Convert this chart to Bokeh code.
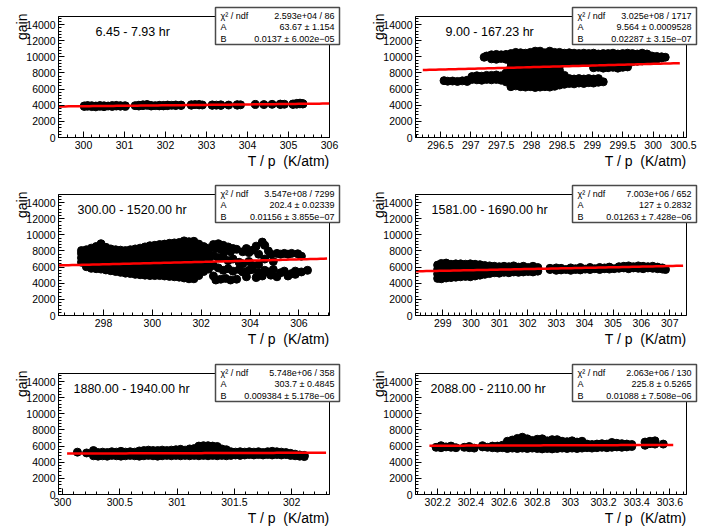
import math
import numpy as np
from bokeh.plotting import figure
from bokeh.layouts import row, column
from bokeh.models import (Range1d, SingleIntervalTicker, NumeralTickFormatter,
                          Label, GridBox)
from bokeh.core.properties import value
from bokeh.embed import file_html
from bokeh.resources import INLINE

FONT = "Liberation Sans"

# ---- per-panel settings -------------------------------------------------
TITLES = ["6.45 - 7.93 hr", "9.00 - 167.23 hr", "300.00 - 1520.00 hr",
          "1581.00 - 1690.00 hr", "1880.00 - 1940.00 hr", "2088.00 - 2110.00 hr"]
X_RANGES = [(299.39, 306.0), (296.09, 300.55), (296.16, 307.25),
            (298.04, 307.59), (299.965, 302.33), (302.066, 303.70)]
X_TICK_STEP = [1, 0.5, 2, 1, 0.5, 0.2]
Y_RANGE = (0, 15000)
Y_TICK_STEP = 2000
X_TITLE = "T / p\u00a0 (K/atm)"
Y_TITLE = "gain"

# exponential fit gain = A * exp(B * T/p)
FIT_A = [63.67, 9.564, 202.4, 127, 303.7, 225.8]
FIT_A_ERR = ["1.154", "0.0009528", "0.02339", "0.2832", "0.4845", "0.5265"]
FIT_B = [0.0137, 0.02287, 0.01156, 0.01263, 0.009384, 0.01088]
FIT_B_ERR = ["6.002e\u221205", "3.15e\u221207", "3.855e\u221207",
             "7.428e\u221206", "5.178e\u221206", "7.508e\u221206"]
CHI2 = ["2.593e+04", "3.025e+08", "3.547e+08", "7.003e+06", "5.748e+06", "2.063e+06"]
NDF = [86, 1717, 7299, 652, 358, 130]
FIT_SPAN = [(299.39, 306.0), (296.21, 300.44), (296.16, 307.15),
            (298.06, 307.47), (300.04, 302.30), (302.15, 303.62)]

# ---- measured points: (T/p, [gain, ...]) --------------------------------
P1_COLS = [
    (300.02, [3920, 3850]), (300.10, [3880, 3960]), (300.20, [3830, 3940]),
    (300.30, [3900, 3800]), (300.40, [3870, 3960]), (300.50, [3820, 3930]),
    (300.60, [3900]), (300.70, [3960, 3850]), (300.80, [3900, 3980]),
    (300.90, [3880, 3950]), (301.02, [3930, 3870]), (301.26, [3950]),
    (301.35, [3900, 4000]), (301.45, [4050, 3950]), (301.55, [3990, 4090]),
    (301.65, [3970, 3900]), (301.75, [3950]), (301.85, [3920, 3990]),
    (301.95, [3980, 3920]), (302.05, [3950, 4020]), (302.15, [3990]),
    (302.25, [3960, 4030]), (302.38, [4020, 3970]), (302.63, [4060, 4000]),
    (302.72, [4080]), (302.82, [4040, 4090]), (302.90, [4030]),
    (303.14, [3990, 4040]), (303.24, [4010]), (303.35, [3980, 4050]),
    (303.54, [4020]), (303.75, [4010, 4070]), (303.83, [4050]),
    (304.19, [4100]), (304.40, [4080]), (304.60, [4110]),
    (304.80, [4090, 4140]), (304.90, [4120]), (305.11, [4160, 4100]),
    (305.20, [4230, 4130]), (305.28, [4260, 4170]), (305.35, [4200, 4150]),
]

P2_COLS = [
    (296.56, [7050]), (296.62, [6980]), (296.70, [7000]), (296.78, [6950]),
    (296.86, [7020]), (296.94, [7100, 6950]), (297.02, [7200, 7550]),
    (297.10, [7150, 7650]), (297.18, [7100, 7600]), (297.22, [9950]),
    (297.26, [7200, 7700, 10100]), (297.34, [7150, 7700, 9750, 10250]),
    (297.42, [7200, 7750, 9700, 10300]), (297.50, [7100, 7650, 9800, 10250]),
    (297.58, [6900, 7500, 8000, 9700, 10300]),
    (297.66, [6300, 6900, 7500, 8100, 8700, 9300, 9900, 10400]),
    (297.74, [6400, 7000, 7600, 8200, 8800, 9400, 10000, 10550]),
    (297.82, [6300, 6900, 7500, 8100, 8700, 9300, 9900, 10500]),
    (297.90, [6250, 6850, 7450, 8050, 8650, 9250, 9850, 10450]),
    (297.98, [6300, 6900, 7500, 8100, 8700, 9300, 9900, 10550]),
    (298.06, [6200, 6800, 7400, 8000, 8600, 9200, 9800, 10400, 10700]),
    (298.14, [6250, 6850, 7450, 8050, 8650, 9250, 9850, 10450, 10700]),
    (298.22, [6300, 6900, 7500, 8100, 8700, 9300, 9900, 10500]),
    (298.30, [6250, 6850, 7450, 8050, 8650, 9250, 9850, 10450, 10700]),
    (298.38, [6350, 6950, 7550, 8150, 8750, 9350, 9950, 10550]),
    (298.46, [6500, 7100, 7700, 8300, 8900, 9500, 10100, 10550]),
    (298.54, [6600, 7200, 7700, 9300, 9900, 10450]),
    (298.62, [6700, 7300, 9350, 9950, 10500]),
    (298.70, [6650, 7250, 9400, 10000, 10450]),
    (298.78, [6750, 7300, 9350, 9950, 10400]),
    (298.86, [6700, 7250, 9400, 10000, 10450]),
    (298.94, [6800, 7300, 9350, 9950, 10400]),
    (299.02, [6750, 7250, 8650, 9400, 10000, 10450]),
    (299.10, [6850, 7300, 8700, 9350, 9950, 10350]),
    (299.18, [6900, 8600, 9400, 10000, 10400]),
    (299.26, [8650, 9300, 9900, 10400]), (299.34, [8700, 9400, 10000, 10450]),
    (299.42, [8600, 9350, 9950, 10350]), (299.50, [8700, 9400, 10000, 10400]),
    (299.58, [8750, 9300, 9900, 10450]), (299.66, [9400, 10000, 10400]),
    (299.74, [9450, 10000, 10350]), (299.82, [9500, 10050, 10450]),
    (299.90, [9550, 10000, 10350]), (299.98, [9600, 10100]),
    (300.06, [9700, 10050]), (300.14, [9850, 10000]), (300.20, [9950]),
]

P3_COLS = [
    (297.10, [6600, 7150, 7700, 8050]),
    (297.30, [6050, 6600, 7150, 7700, 8150]),
    (297.50, [5850, 6400, 6950, 7500, 8000, 8350]),
    (297.70, [5800, 6350, 6900, 7450, 8000, 8550]),
    (297.90, [5750, 6300, 6850, 7400, 7950, 8450, 8900]),
    (298.10, [5650, 6200, 6750, 7300, 7850, 8450]),
    (298.30, [5550, 6100, 6650, 7200, 7750, 8250]),
    (298.50, [5450, 6000, 6550, 7100, 7650, 8150]),
    (298.70, [5350, 5900, 6450, 7000, 7550, 8100]),
    (298.90, [5250, 5800, 6350, 6900, 7450, 8050]),
    (299.10, [5200, 5750, 6300, 6850, 7400, 7950, 8150]),
    (299.30, [5100, 5650, 6200, 6750, 7300, 7850, 8250]),
    (299.50, [5050, 5600, 6150, 6700, 7250, 7800, 8350]),
    (299.70, [5000, 5550, 6100, 6650, 7200, 7750, 8300, 8500]),
    (299.90, [4950, 5500, 6050, 6600, 7150, 7700, 8250, 8650]),
    (300.10, [4950, 5500, 6050, 6600, 7150, 7700, 8250, 8700]),
    (300.30, [4950, 5500, 6050, 6600, 7150, 7700, 8250, 8800]),
    (300.50, [4900, 5450, 6000, 6550, 7100, 7650, 8200, 8850]),
    (300.70, [4850, 5400, 5950, 6500, 7050, 7600, 8150, 8700, 8950]),
    (300.90, [4800, 5350, 5900, 6450, 7000, 7550, 8100, 8650, 9000]),
    (301.10, [4750, 5300, 5850, 6400, 6950, 7500, 8050, 8600, 9050]),
    (301.30, [4650, 5200, 5750, 6300, 6850, 7400, 7950, 8500, 9000, 9250]),
    (301.50, [4550, 5100, 5650, 6200, 6750, 7300, 7850, 8400, 8950, 9150]),
    (301.70, [4550, 5100, 5650, 6200, 6750, 7300, 7850, 8400, 8950, 9200]),
    (301.90, [4950, 5500, 6050, 6600, 7150, 7700, 8250, 8850]),
    (302.10, [5450, 6000, 6550, 7100, 7650, 8200, 8550]),
    (302.30, [5750, 6300, 6850, 7400, 7950, 8350]),
    (302.50, [4900, 6200, 7400, 8800]), (302.60, [4400, 8300]),
    (302.70, [5900, 7200, 8900]), (302.80, [4500, 8200]),
    (302.90, [5600, 7300, 8700]), (303.00, [4600, 8100]),
    (303.10, [5800, 6800, 8500]), (303.20, [4400, 7900]),
    (303.30, [5500, 7000, 8300]), (303.45, [4500, 8200]),
    (303.55, [5700, 6600]), (303.70, [5400, 6400, 7900]),
    (303.85, [4800, 8300]), (303.95, [5600, 6700, 7800]),
    (304.10, [5700, 6200, 8100]), (304.25, [4700, 8600]),
    (304.35, [5300, 6300, 7600]), (304.50, [4900, 9100]),
    (304.60, [5600, 7000, 8700]), (304.75, [5400, 8000]),
    (304.85, [5000, 7600]), (304.95, [5700, 6700]),
    (305.10, [4800, 7700]), (305.25, [5300, 7600]),
    (305.40, [5500, 7700]), (305.55, [4900, 7600]),
    (305.70, [5200, 7700]), (305.85, [5500, 5100]),
    (305.95, [7650]), (306.10, [5400, 7350]), (306.35, [5600]),
]

P4_COLS = [
    (298.82, [4600, 5150, 5700, 6250]), (298.95, [4550, 5100, 5650, 6200, 6450]),
    (299.12, [4650, 5200, 5750, 6300, 6500]), (299.29, [4700, 5250, 5800, 6350]),
    (299.46, [4750, 5300, 5850, 6400]), (299.63, [4800, 5350, 5900, 6400]),
    (299.80, [4850, 5400, 5950, 6350]), (299.97, [4800, 5350, 5900, 6400]),
    (300.14, [4900, 5450, 6000, 6350]), (300.31, [5000, 5550, 6100, 6300]),
    (300.48, [5100, 5650, 6200]), (300.65, [5200, 5700, 6150]),
    (300.82, [5300, 5800, 6100]), (300.99, [5250, 5750, 6050]),
    (301.16, [5350, 5850, 6100]), (301.33, [5300, 5800, 6050]),
    (301.50, [5400, 5900, 6150]), (301.67, [5350, 5850, 6000]),
    (301.84, [5400, 5900, 6100]), (302.01, [5450, 5950]),
    (302.18, [5400, 5900, 6100]), (302.35, [5500, 5950]),
    (302.78, [5700, 5850]), (303.00, [5600, 5900]), (303.17, [5650, 5850]),
    (303.34, [5700]), (303.51, [5600, 5900]), (303.68, [5700, 5800]),
    (303.85, [5650, 5950]), (304.02, [5750]), (304.19, [5700, 5950]),
    (304.36, [5800]), (304.53, [5700, 5950]), (304.70, [5800, 5900]),
    (304.87, [5750, 6000]), (305.04, [5800]), (305.21, [5850, 6050]),
    (305.38, [5900, 6100]), (305.55, [5800, 6150]), (305.72, [5900, 6050]),
    (305.89, [5850, 6150]), (306.06, [5800, 6100]), (306.23, [5900, 6050]),
    (306.40, [5850, 6100]), (306.57, [5800, 6000]), (306.74, [5750, 5900]),
    (306.85, [5700]),
]

P5_COLS = [
    (300.13, [5250]), (300.21, [5150]), (300.27, [5450, 4800]),
    (300.31, [4750, 5200]), (300.35, [4800, 5250]), (300.39, [4750, 5200]),
    (300.43, [4850, 5300]), (300.47, [4800, 5250]), (300.51, [4750, 5200, 5350]),
    (300.55, [4800, 5250]), (300.59, [4850, 5300]), (300.63, [4800, 5250]),
    (300.67, [4750, 5200, 5400]), (300.71, [4800, 5250, 5450]),
    (300.75, [4850, 5300, 5500]), (300.79, [4800, 5250, 5450]),
    (300.83, [4750, 5200, 5450]), (300.87, [4800, 5250, 5500]),
    (300.91, [4850, 5300, 5450]), (300.95, [4800, 5250, 5500]),
    (300.99, [4850, 5300, 5550]), (301.03, [4800, 5250, 5600]),
    (301.07, [4850, 5300, 5500]), (301.11, [4800, 5250, 5650]),
    (301.15, [4850, 5300, 5700]), (301.19, [4800, 5250, 5700, 6000]),
    (301.23, [4850, 5300, 5750, 6050]), (301.27, [4800, 5250, 5700, 6050]),
    (301.31, [4850, 5300, 5750, 6000]), (301.35, [4800, 5250, 5700, 5950]),
    (301.39, [4850, 5300, 5650]), (301.43, [4800, 5250, 5550]),
    (301.47, [4850, 5300]), (301.51, [4900, 5250]), (301.55, [4850, 5300]),
    (301.59, [4900, 5250]), (301.63, [4950, 5300]), (301.67, [4900, 5250]),
    (301.71, [4950, 5300]), (301.75, [4900, 5200]), (301.79, [4950, 5300]),
    (301.83, [4900, 5350]), (301.87, [4950, 5300]), (301.91, [4900, 5250]),
    (301.95, [4950, 5200]), (301.99, [4850, 5100]), (302.03, [4800, 5000]),
    (302.07, [4750, 4900]), (302.11, [4700, 4850]),
]

P6_COLS = [
    (302.19, [5850]), (302.22, [5800, 6050]), (302.25, [5900]),
    (302.28, [5850, 6000]), (302.31, [5800]), (302.36, [5850]),
    (302.39, [5800, 5950]), (302.42, [5750]), (302.47, [5900, 6050]),
    (302.50, [5850]), (302.53, [5800, 6000]), (302.56, [5750, 6000]),
    (302.59, [5800, 6100]), (302.62, [5700, 6200, 6600]),
    (302.65, [5750, 6250, 6750]), (302.68, [5700, 6200, 6700, 6950]),
    (302.71, [5750, 6250, 6750, 7100]), (302.74, [5700, 6200, 6700, 6900]),
    (302.77, [5750, 6250, 6700]), (302.80, [5700, 6200, 6650, 6850]),
    (302.83, [5650, 6150, 6650, 6900]), (302.86, [5700, 6200, 6650]),
    (302.89, [5650, 6150, 6650, 6800]), (302.92, [5700, 6200, 6650, 6800]),
    (302.95, [5750, 6250, 6600]), (302.98, [5700, 6200, 6550]),
    (303.01, [5750, 6250, 6650]), (303.04, [5700, 6200, 6500]),
    (303.07, [5750, 6250, 6600]), (303.10, [5800, 6250]),
    (303.13, [5750, 6200]), (303.16, [5800, 6250]), (303.19, [5850, 6300]),
    (303.22, [5800, 6250]), (303.25, [5850, 6300, 6450]), (303.28, [5900, 6350]),
    (303.31, [5850, 6300]), (303.34, [5900, 6250]), (303.37, [5950, 6200]),
    (303.45, [6100, 6500]), (303.48, [6300, 6600]), (303.51, [6250, 6650]),
    (303.56, [6250]),
]

PANEL_COLS = [P1_COLS, P2_COLS, P3_COLS, P4_COLS, P5_COLS, P6_COLS]

# ---- layout (pixels) ----------------------------------------------------
PAGE_W, PAGE_H = 706, 529
FIG_W = 353
FRAME_W = 271
FRAME_H = 121
ROW_H = [177, 178, 174]
ROW_TOP = [16, 17, 18]
FRAME_LEFT = [58, 415]            # page x of the left frame edge, per column
FRAME_TOP = [16, 194, 373]        # page y of the top frame edge, per row
CAPTION_X = [37, 30, 19, 16, 15, 15]


def make_panel(i):
    left = (i % 2 == 0)
    r = i // 2
    h = ROW_H[r]
    top = ROW_TOP[r]
    p = figure(width=FIG_W, height=h, title=None,
               x_range=Range1d(*X_RANGES[i]), y_range=Range1d(*Y_RANGE),
               output_backend="svg", toolbar_location=None,
               min_border_left=58 if left else 62,
               min_border_right=24 if left else 20,
               min_border_top=top, min_border_bottom=h - top - FRAME_H)
    p.background_fill_color = "white"
    p.border_fill_color = "white"
    p.outline_line_color = "black"
    p.outline_line_width = 1
    p.grid.visible = False

    xs = [x for x, ys in PANEL_COLS[i] for _ in ys]
    gs = [g for _, ys in PANEL_COLS[i] for g in ys]
    p.scatter(xs, gs, marker="circle", size=8, color="black")

    fx = np.linspace(FIT_SPAN[i][0], FIT_SPAN[i][1], 80)
    fy = FIT_A[i] * np.exp(FIT_B[i] * fx)
    p.line(fx, fy, color="red", line_width=2.5)

    p.xaxis.ticker = SingleIntervalTicker(interval=X_TICK_STEP[i], num_minor_ticks=5)
    p.xaxis.formatter = NumeralTickFormatter(format="0.[0]")
    p.yaxis.ticker = SingleIntervalTicker(interval=Y_TICK_STEP, num_minor_ticks=5)
    p.yaxis.formatter = NumeralTickFormatter(format="0")
    for ax in (p.xaxis, p.yaxis):
        ax.major_tick_in = 6
        ax.major_tick_out = 0
        ax.minor_tick_in = 3
        ax.minor_tick_out = 0
        ax.axis_line_color = "black"
        ax.major_tick_line_color = "black"
        ax.minor_tick_line_color = "black"
        ax.major_label_text_font = FONT
        ax.major_label_text_font_size = "10.5px"
        ax.major_label_text_color = "black"
        ax.major_label_standoff = 3

    p.add_layout(Label(x=CAPTION_X[i], y=106, x_units="screen", y_units="screen",
                       text=TITLES[i], text_font=FONT, text_font_size="12.5px",
                       text_color="black", text_baseline="middle"))
    return p


def make_overlay():
    """Transparent page-sized canvas for text that sits outside the frames:
    axis titles and the fit-statistics boxes."""
    ov = figure(width=PAGE_W, height=PAGE_H, title=None,
                x_range=Range1d(0, PAGE_W), y_range=Range1d(PAGE_H, 0),
                x_axis_type=None, y_axis_type=None, output_backend="svg",
                toolbar_location=None, min_border=0)
    ov.outline_line_color = None
    ov.background_fill_color = None
    ov.border_fill_color = None

    bx_l, bx_r, bx_t, bx_b = [], [], [], []
    ytx, yty, xtx, xty = [], [], [], []
    lt_x, lt_y, lt_s, rt_x, rt_y, rt_s = [], [], [], [], [], []
    for i in range(6):
        fl = FRAME_LEFT[i % 2]
        fr = fl + FRAME_W
        ft = FRAME_TOP[i // 2]
        fb = ft + FRAME_H
        ytx.append(fl - 37)
        yty.append(ft - 3)
        xtx.append(fr)
        xty.append(fb + 23)
        l, rr = fr - 114, fr + 10
        bx_l.append(l)
        bx_r.append(rr)
        bx_t.append(ft - 9)
        bx_b.append(ft + 28)
        rows = [("\u03c7\u00b2 / ndf", f"{CHI2[i]} / {NDF[i]}"),
                ("A", f"{FIT_A[i]} \u00b1 {FIT_A_ERR[i]}"),
                ("B", f"{FIT_B[i]} \u00b1 {FIT_B_ERR[i]}")]
        for k, (name, val) in enumerate(rows):
            yy = ft + [-1, 10.5, 22][k]
            lt_x.append(l + 5)
            lt_y.append(yy)
            lt_s.append(name)
            rt_x.append(rr - 5)
            rt_y.append(yy)
            rt_s.append(val)

    ov.text(ytx, yty, text=[Y_TITLE] * 6, angle=math.pi / 2,
            text_font=value(FONT), text_font_size=value("14px"),
            text_align="right", text_baseline="alphabetic", text_color="black")
    ov.text(xtx, xty, text=[X_TITLE] * 6,
            text_font=value(FONT), text_font_size=value("14px"),
            text_align="right", text_baseline="alphabetic", text_color="black")
    ov.quad(left=bx_l, right=bx_r, top=bx_t, bottom=bx_b,
            fill_color="white", line_color="#4a4a4a", line_width=1.5)
    ov.text(lt_x, lt_y, text=lt_s, text_font=value(FONT),
            text_font_size=value("9px"), text_align="left",
            text_baseline="middle", text_color="black")
    ov.text(rt_x, rt_y, text=rt_s, text_font=value(FONT),
            text_font_size=value("9px"), text_align="right",
            text_baseline="middle", text_color="black")
    return ov


panels = [make_panel(i) for i in range(6)]
overlay = make_overlay()
charts = column(row(panels[0], panels[1]), row(panels[2], panels[3]),
                row(panels[4], panels[5]))
# the annotation canvas shares the single grid cell and is painted on top
grid = GridBox(children=[(charts, 0, 0), (column(overlay), 0, 0)])

open("out.html", "w").write(file_html(grid, INLINE))
